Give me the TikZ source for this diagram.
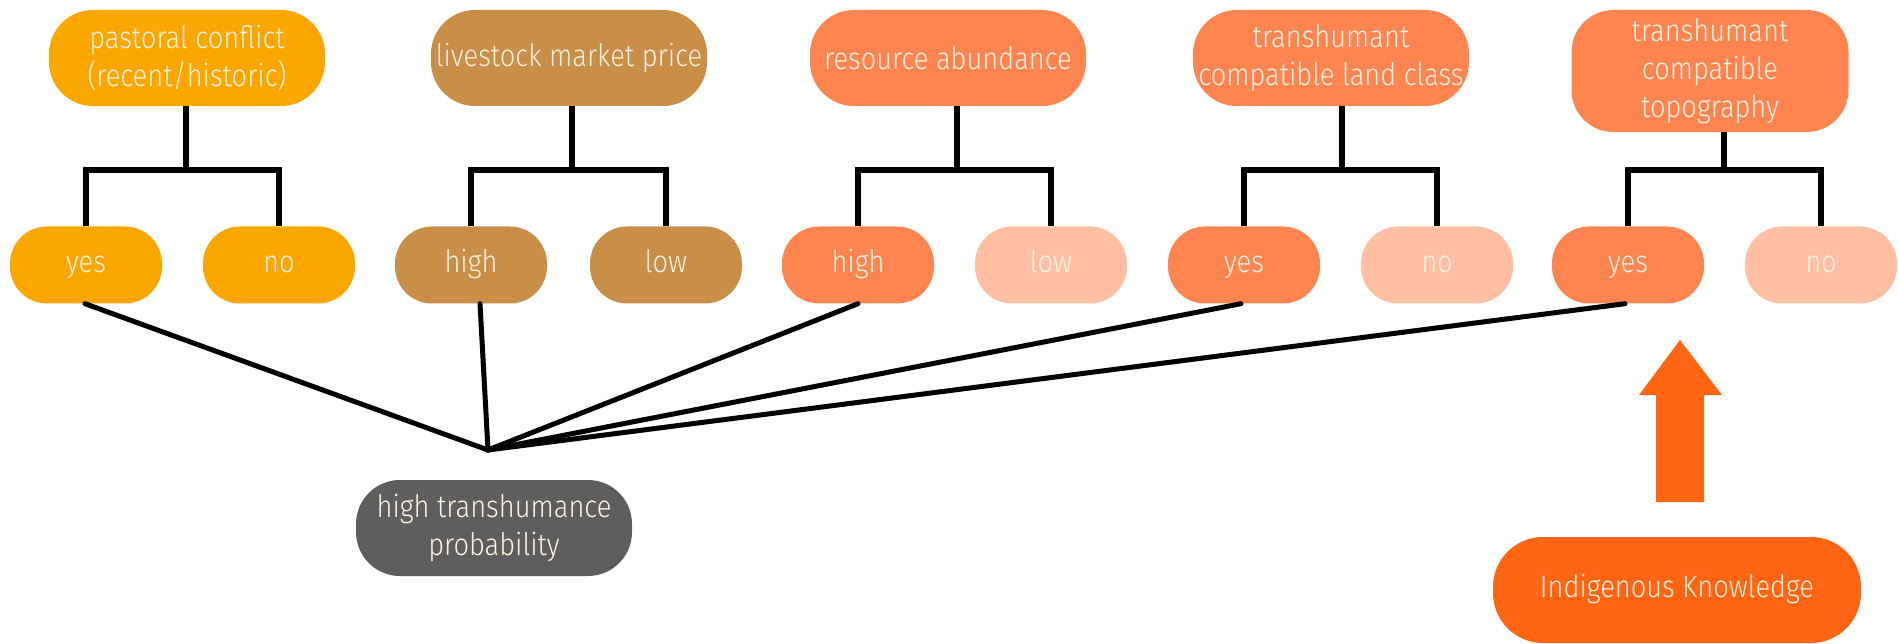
\documentclass[tikz,border=0pt]{standalone}
\usepackage{fontspec}
\setmainfont{Fira Sans Light}[FakeStretch=0.88]
\definecolor{cA}{HTML}{FBA700}
\definecolor{cB}{HTML}{C98E48}
\definecolor{cC}{HTML}{FF8550}
\definecolor{cL}{HTML}{FFBFA3}
\definecolor{cG}{HTML}{5E5E5E}
\definecolor{cI}{HTML}{FF6513}
\definecolor{txt}{HTML}{FFF1E2}
\tikzset{
  box/.style={inner sep=0pt, align=center, text=txt,
    font=\fontsize{31}{38}\selectfont},
  topbox/.style={box, rounded corners=44pt, minimum width=276pt, minimum height=96pt},
  tallbox/.style={box, rounded corners=42pt, minimum width=277pt, minimum height=122pt},
  leafbox/.style={box, rounded corners=37pt, minimum width=152pt, minimum height=77pt,
    text height=22pt, text depth=7pt},
  link/.style={draw=black, line width=5.5pt},
  fan/.style={draw=black, line width=5pt, line cap=round},
}
\begin{document}
\begin{tikzpicture}[x=1pt,y=-1pt]
\useasboundingbox (0,0) rectangle (1899,644);
% top boxes
\node[topbox, fill=cA] (t1) at (187,58) {pastoral conflict\\(recent/historic)};
\node[topbox, fill=cB] (t2) at (569,58) {livestock market price};
\node[topbox, fill=cC] (t3) at (948,58) {resource abundance};
\node[topbox, fill=cC] (t4) at (1331,58) {transhumant\\compatible land class};
\node[tallbox, fill=cC] (t5) at (1710,71) {transhumant\\compatible\\topography};
% leaves
\node[leafbox, fill=cA] (l1) at (86,265) {yes};
\node[leafbox, fill=cA] (l2) at (279,265) {no};
\node[leafbox, fill=cB] (l3) at (471,265) {high};
\node[leafbox, fill=cB] (l4) at (666,265) {low};
\node[leafbox, fill=cC] (l5) at (858,265) {high};
\node[leafbox, fill=cL] (l6) at (1051,265) {low};
\node[leafbox, fill=cC] (l7) at (1244,265) {yes};
\node[leafbox, fill=cL] (l8) at (1437,265) {no};
\node[leafbox, fill=cC] (l9) at (1628,265) {yes};
\node[leafbox, fill=cL] (l10) at (1821,265) {no};
% junctions
\coordinate (j1) at (186,170);
\coordinate (j2) at (572,170);
\coordinate (j3) at (957,170);
\coordinate (j4) at (1342,170);
\coordinate (j5) at (1724,170);
\foreach \j/\t/\a/\b in {j1/t1/l1/l2, j2/t2/l3/l4, j3/t3/l5/l6, j4/t4/l7/l8, j5/t5/l9/l10}{
  \draw[link] (\j |- \t.south) -- (\j);
  \draw[link, line join=miter] (\a.north) -- (\a.north |- \j) -- (\b.north |- \j) -- (\b.north);
}
% fan
\coordinate (hub) at (488,450);
\draw[fan] ([xshift=-1pt]l1.south) -- (hub);
\draw[fan] ([xshift=9pt]l3.south) -- (hub);
\draw[fan] (l5.south) -- (hub);
\draw[fan] ([xshift=-3pt]l7.south) -- (hub);
\draw[fan] ([xshift=-3pt]l9.south) -- (hub);
% result
\node[topbox, fill=cG] (res) at (494,528) {high transhumance\\probability};
% indigenous knowledge
\node[box, fill=cI, rounded corners=50pt, minimum width=368pt, minimum height=106pt,
  text height=22pt, text depth=7pt] (ik) at (1677,590) {Indigenous Knowledge};
\fill[cI] (1656,502) -- (1656,395) -- (1639,395) -- (1680,340) -- (1722,395) -- (1704,395) -- (1704,502) -- cycle;
\end{tikzpicture}
\end{document}
